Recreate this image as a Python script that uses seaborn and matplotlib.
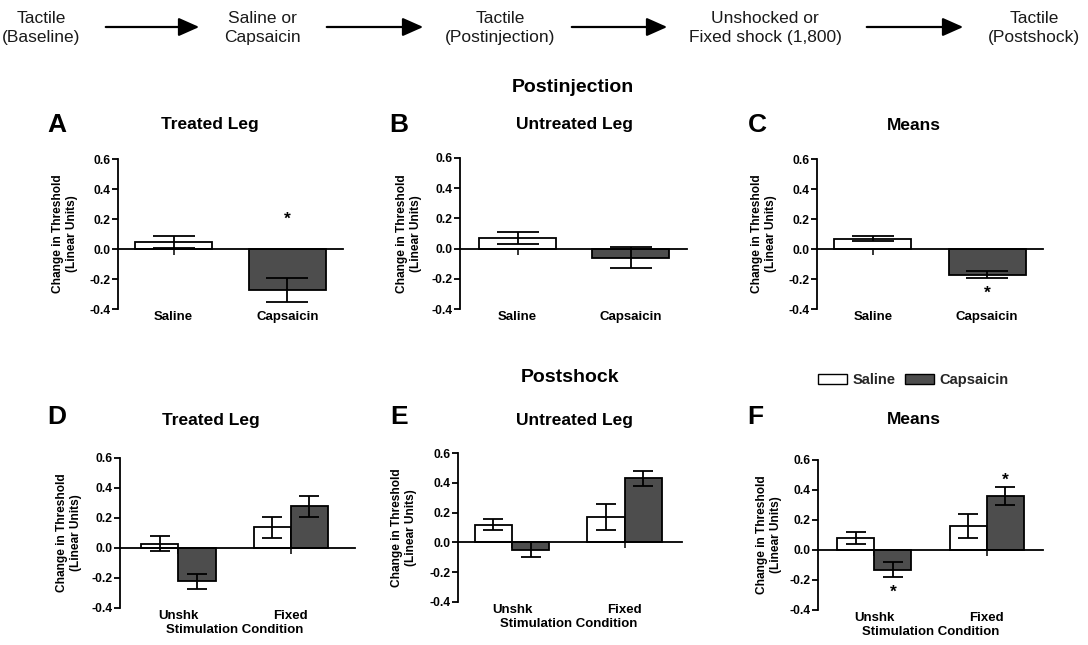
import numpy as np
import pandas as pd
import matplotlib
matplotlib.use("Agg")
import matplotlib.pyplot as plt
from matplotlib.patches import Patch, FancyArrowPatch
from matplotlib.transforms import blended_transform_factory
import seaborn as sns

# ---------------- data ----------------
groups = ["Saline", "Capsaicin"]
conditions = ["Unshk", "Fixed"]

# Postinjection (Saline, Capsaicin)
treated_inj_mean = [0.05, -0.27]
treated_inj_sem = [0.04, 0.08]
untreated_inj_mean = [0.07, -0.06]
untreated_inj_sem = [0.04, 0.07]
means_inj_mean = [0.07, -0.17]
means_inj_sem = [0.015, 0.025]

# Postshock (Unshk, Fixed)
treated_shk_saline = [0.03, 0.14]
treated_shk_saline_sem = [0.05, 0.07]
treated_shk_caps = [-0.22, 0.28]
treated_shk_caps_sem = [0.05, 0.07]
untreated_shk_saline = [0.12, 0.17]
untreated_shk_saline_sem = [0.04, 0.09]
untreated_shk_caps = [-0.05, 0.43]
untreated_shk_caps_sem = [0.05, 0.05]
means_shk_saline = [0.08, 0.16]
means_shk_saline_sem = [0.04, 0.08]
means_shk_caps = [-0.13, 0.36]
means_shk_caps_sem = [0.05, 0.06]

# significance asterisks: (x category, group, y value)
sig_A = [("Capsaicin", "Capsaicin", 0.22)]
sig_C = [("Capsaicin", "Capsaicin", -0.27)]
sig_F = [("Unshk", "Capsaicin", -0.26), ("Fixed", "Capsaicin", 0.49)]

flow_steps = ["Tactile\n(Baseline)", "Saline or\nCapsaicin", "Tactile\n(Postinjection)",
              "Unshocked or\nFixed shock (1,800)", "Tactile\n(Postshock)"]

y_ticks = [-0.4, -0.2, 0.0, 0.2, 0.4, 0.6]

# ---------------- style ----------------
sns.set_theme(style="white")
plt.rcParams["font.family"] = ["Liberation Sans", "DejaVu Sans"]
plt.rcParams["axes.unicode_minus"] = False

palette = {"Saline": "#ffffff", "Capsaicin": "#4d4d4d"}
W, H = 1088, 645
fig = plt.figure(figsize=(W / 100, H / 100), dpi=100)


def fx(x):
    return x / W


def fy(y):
    return 1 - y / H


def inj_df(mean, sem):
    return pd.DataFrame({"group": groups, "mean": mean, "sem": sem})


def shk_df(sal, sal_sem, cap, cap_sem):
    return pd.DataFrame({
        "condition": conditions * 2,
        "group": ["Saline"] * 2 + ["Capsaicin"] * 2,
        "mean": list(sal) + list(cap),
        "sem": list(sal_sem) + list(cap_sem),
    })


def draw_panel(rect, df, grouped, letter, letter_xy, title, title_xy, ylab_x, sigs, xlim):
    l, t, r, b = rect
    ax = fig.add_axes([fx(l), fy(b), (r - l) / W, (b - t) / H])
    if grouped:
        sns.barplot(data=df, x="condition", y="mean", hue="group", order=conditions,
                    hue_order=groups, palette=palette, edgecolor="black", linewidth=1.3,
                    width=0.66, saturation=1, errorbar=None, legend=False, ax=ax)
        cats = conditions
        capsize = 7
    else:
        sns.barplot(data=df, x="group", y="mean", hue="group", order=groups,
                    hue_order=groups, palette=palette, edgecolor="black", linewidth=1.3,
                    width=0.675, saturation=1, errorbar=None, legend=False, ax=ax)
        cats = groups
        capsize = 15
    centers = {}
    for p in ax.patches:
        h = p.get_height()
        rows = df[np.isclose(df["mean"], h)]
        if rows.empty:
            continue
        row = rows.iloc[0]
        xc = p.get_x() + p.get_width() / 2
        key = (row["condition"] if grouped else row["group"], row["group"])
        centers[key] = xc
        ax.errorbar(xc, h, yerr=row["sem"], fmt="none", ecolor="black", elinewidth=1.3,
                    capsize=capsize, capthick=1.3, zorder=4)
    for cat, grp, yv in sigs:
        ax.text(centers[(cat, grp)], yv - 0.055, "*", ha="center", va="baseline",
                fontsize=12.5, fontweight="bold", color="black")
    ax.set_ylim(-0.4, 0.6)
    ax.set_xlim(*xlim)
    ax.set_yticks(y_ticks)
    ax.set_yticklabels([f"{v:.1f}" for v in y_ticks], fontsize=8.7, fontweight="bold")
    ax.spines["top"].set_visible(False)
    ax.spines["right"].set_visible(False)
    ax.spines["bottom"].set_position(("data", 0))
    for s in ("left", "bottom"):
        ax.spines[s].set_linewidth(1.3)
        ax.spines[s].set_color("black")
    ax.tick_params(axis="y", direction="out", length=4, width=1.3, pad=1.5, left=True, colors="black")
    ax.tick_params(axis="x", direction="out", length=4, width=1.3, labelbottom=False, bottom=True)
    ax.set_xlabel("")
    ax.set_ylabel("")
    ax.set_facecolor("none")
    tr = blended_transform_factory(ax.transData, ax.transAxes)
    for i, c in enumerate(cats):
        ax.text(i, -0.015, c, transform=tr, ha="center", va="top", fontsize=9.5,
                fontweight="bold", color="black")
    if grouped:
        ax.text(0.5, -0.145, "Stimulation Condition", transform=tr, ha="center", va="center",
                fontsize=9.5, fontweight="bold", color="black")
    fig.text(fx(ylab_x), fy((t + b) / 2), "Change in Threshold\n(Linear Units)", rotation=90,
             ha="center", va="center", multialignment="center", fontsize=8.6,
             fontweight="bold", linespacing=1.25, color="black")
    fig.text(fx(letter_xy[0]), fy(letter_xy[1]), letter, ha="center", va="center",
             fontsize=19, fontweight="bold", color="black")
    fig.text(fx(title_xy[0]), fy(title_xy[1]), title, ha="center", va="center",
             fontsize=12.5, fontweight="bold", color="black")
    return ax


draw_panel((118, 159, 343, 309), inj_df(treated_inj_mean, treated_inj_sem), False,
           "A", (57, 125), "Treated Leg", (210, 125), 65, sig_A, (-0.49, 1.49))
draw_panel((460, 158, 687, 309), inj_df(untreated_inj_mean, untreated_inj_sem), False,
           "B", (399, 125), "Untreated Leg", (574, 125), 409, [], (-0.51, 1.5))
draw_panel((817, 159, 1043, 309), inj_df(means_inj_mean, means_inj_sem), False,
           "C", (757, 125), "Means", (914, 125), 764, sig_C, (-0.49, 1.49))

draw_panel((120, 458, 355, 608),
           shk_df(treated_shk_saline, treated_shk_saline_sem, treated_shk_caps, treated_shk_caps_sem),
           True, "D", (57, 417), "Treated Leg", (211, 420), 69, [], (-0.52, 1.57))
draw_panel((458, 453, 682, 602),
           shk_df(untreated_shk_saline, untreated_shk_saline_sem, untreated_shk_caps, untreated_shk_caps_sem),
           True, "E", (399, 417), "Untreated Leg", (574, 420), 404, [], (-0.48, 1.51))
draw_panel((818, 460, 1043, 610),
           shk_df(means_shk_saline, means_shk_saline_sem, means_shk_caps, means_shk_caps_sem),
           True, "F", (755, 417), "Means", (914, 419), 769, sig_F, (-0.5, 1.5))

# section titles
fig.text(fx(573), fy(87), "Postinjection", ha="center", va="center", fontsize=14,
         fontweight="bold", color="black")
fig.text(fx(570), fy(378), "Postshock", ha="center", va="center", fontsize=14,
         fontweight="bold", color="black")

# legend
handles = [Patch(facecolor=palette[g], edgecolor="black", linewidth=1.0, label=g) for g in groups]
fig.legend(handles=handles, loc="center left", bbox_to_anchor=(fx(818), fy(380)), ncol=2,
           frameon=False, prop={"weight": "bold", "size": 10.5}, handlelength=2.0,
           handleheight=0.75, handletextpad=0.4, columnspacing=0.6, borderpad=0, borderaxespad=0)

# flow diagram
flow_x = [41, 262, 500, 765, 1034]
arrows = [(103, 202), (324, 426), (569, 670), (864, 966)]
for x, s in zip(flow_x, flow_steps):
    fig.text(fx(x), fy(28), s, ha="center", va="center", fontsize=12.5,
             linespacing=1.3, color="#1a1a1a")
for x0, x1 in arrows:
    fig.add_artist(FancyArrowPatch((fx(x0), fy(27)), (fx(x1), fy(27)),
                                   transform=fig.transFigure,
                                   arrowstyle="-|>,head_length=9,head_width=4",
                                   mutation_scale=1.4, linewidth=1.6, color="black"))

fig.savefig("out.png", dpi=100, facecolor="white")
